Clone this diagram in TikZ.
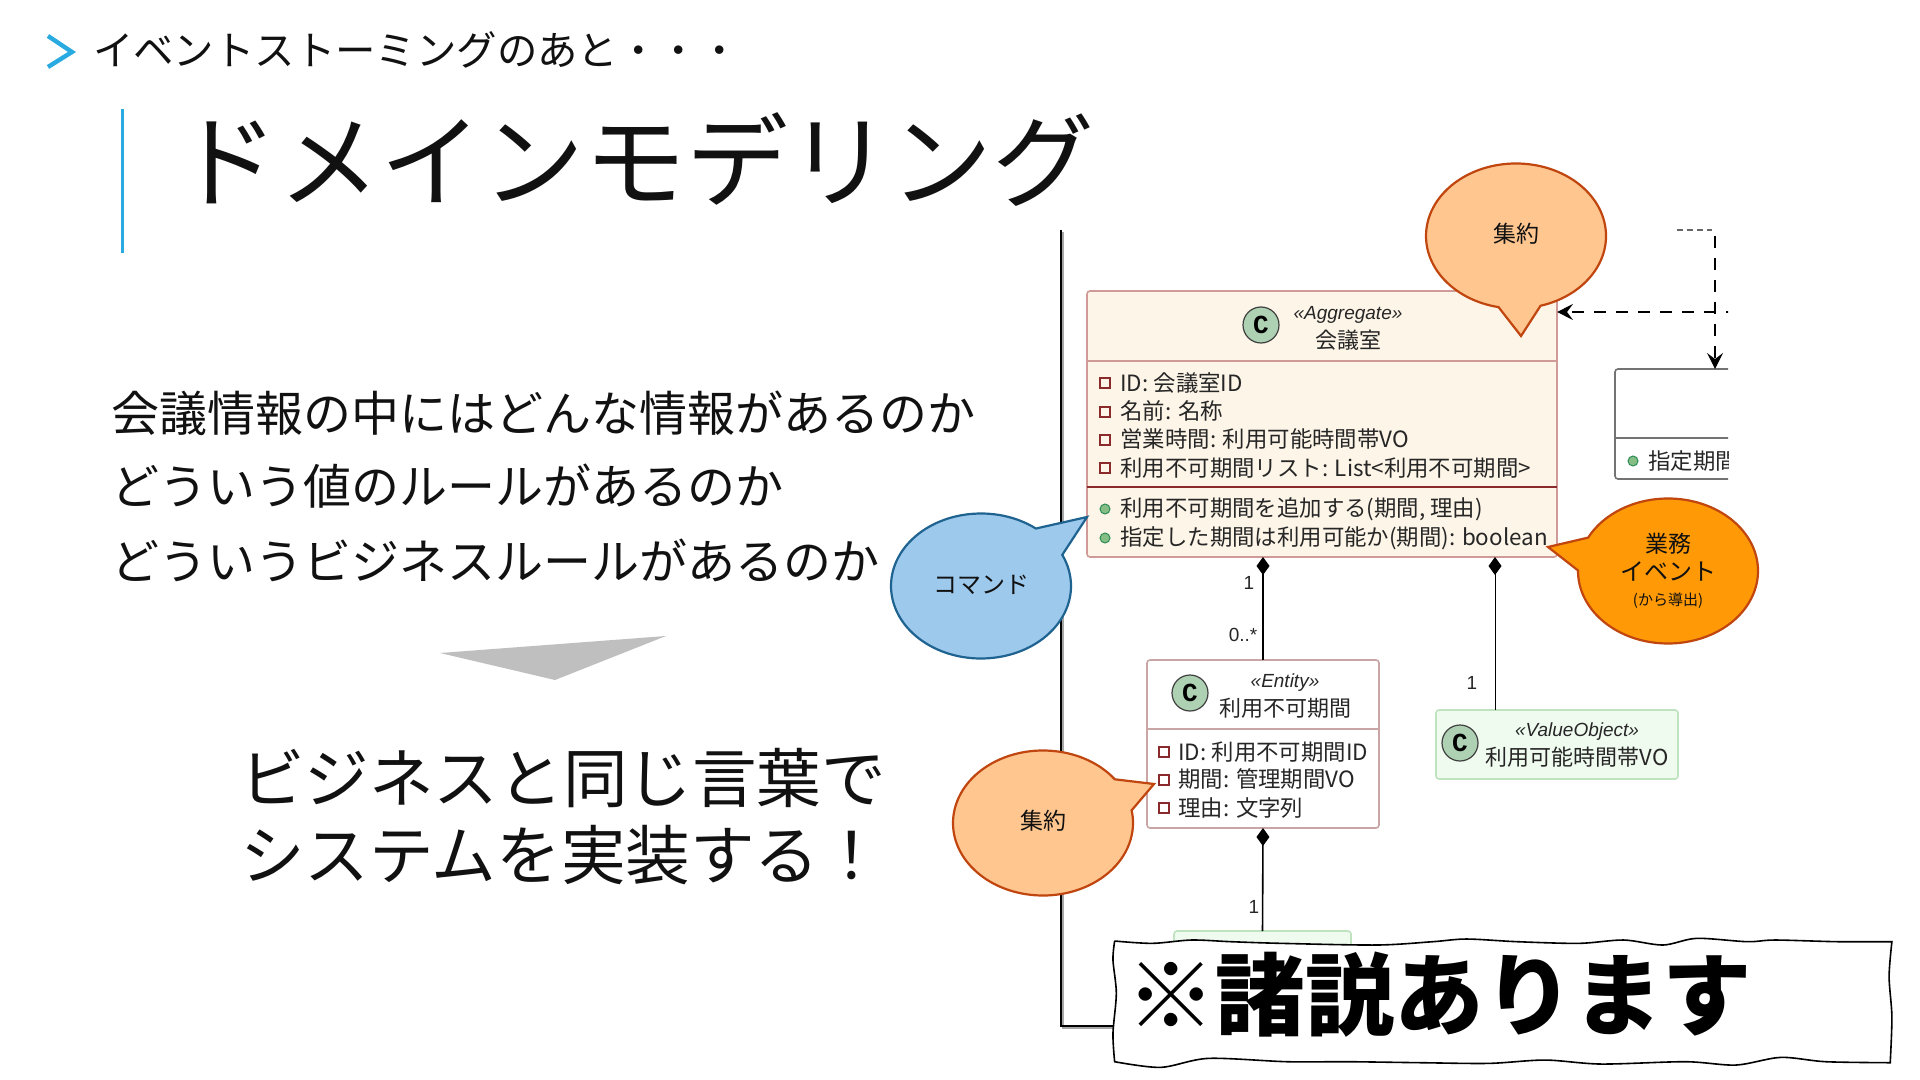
\documentclass[tikz,border=0pt]{standalone}
\usepackage{fontspec}
\setmainfont{Noto Sans CJK JP}
\newfontfamily\latfont{Liberation Sans}
\newfontfamily\monofont{Liberation Mono}
\usetikzlibrary{arrows.meta,shapes.callouts}
\definecolor{accent}{HTML}{29ABE2}
\definecolor{inkc}{HTML}{111111}
\definecolor{boxline}{HTML}{CF9A98}
\definecolor{entline}{HTML}{C9A5A5}
\definecolor{redline}{HTML}{8B2A2A}
\definecolor{creamfill}{HTML}{FDF5E8}
\definecolor{greenfill}{HTML}{F0FBF0}
\definecolor{greenline}{HTML}{BFE3BF}
\definecolor{spotfill}{HTML}{ADD1B2}
\definecolor{dotfill}{HTML}{84BE84}
\definecolor{dotline}{HTML}{2E8B57}
\definecolor{peach}{HTML}{FFC68F}
\definecolor{rust}{HTML}{C0450F}
\definecolor{sky}{HTML}{9DC9EC}
\definecolor{navyline}{HTML}{1F6391}
\definecolor{amber}{HTML}{FF9906}
\newcommand{\fsz}[1]{\fontsize{#1pt}{#1pt}\selectfont}
\tikzset{
  plain/.style={inner sep=0,outer sep=0,text=inkc},
  classbox/.style={draw=boxline,line width=.8pt,rounded corners=1.5pt,inner sep=0,outer sep=0},
  spot/.style={circle,draw=black!75,fill=spotfill,line width=.6pt,minimum size=18pt,inner sep=0,font=\monofont\bfseries\fsz{13},text=black},
  stereo/.style={inner sep=0,font=\latfont\itshape\fsz{9.5},text=black!85},
  cname/.style={inner sep=0,font=\fsz{11},text=black!85},
  member/.style={inner sep=0,anchor=west,font=\fsz{11.2},text=black!85},
  privicon/.style={draw=redline,line width=.6pt,minimum size=5pt,inner sep=0},
  pubicon/.style={circle,draw=dotline,fill=dotfill,line width=.5pt,minimum size=5pt,inner sep=0},
  mult/.style={inner sep=0,font=\latfont\fsz{9.5},text=black!85},
  assoc/.style={draw=black,line width=.8pt,{Diamond[length=9pt,width=6.5pt]}-},
  depend/.style={draw=black,line width=.8pt,dash pattern=on 6pt off 5pt,-{Stealth[length=8pt,width=8pt,inset=3pt]}},
  bubble/.style={ellipse callout,line width=1.1pt,minimum width=90pt,minimum height=72.5pt,inner sep=0,align=center,text=inkc,font=\fsz{11.5}},
}
\begin{document}
\begin{tikzpicture}[x=0.5pt,y=-0.5pt]
\useasboundingbox (0,0) rectangle (1920,1080);
\fill[white] (0,0) rectangle (1920,1080);

% header
\draw[accent,line width=2.2pt] (48,36) -- (72,52) -- (48,67);
\node[plain,anchor=west,font=\fsz{20.2}] (crumb) at (93,50) {イベントストーミングのあと・・・};
\draw[accent,line width=1.5pt] (122,109) -- (122,253);
\node[plain,anchor=west,font=\fsz{51}] (title) at (176,160) {ドメインモデリング};

% left text
\node[plain,anchor=west,font=\fsz{24}] (l1) at (111,413) {会議情報の中にはどんな情報があるのか};
\node[plain,anchor=west,font=\fsz{24}] (l2) at (111,486) {どういう値のルールがあるのか};
\node[plain,anchor=west,font=\fsz{24}] (l3) at (111,560) {どういうビジネスルールがあるのか};
\fill[black!25] (440,653) -- (666,636) -- (555,680) -- cycle;
\node[plain,anchor=west,font=\fsz{32.3}] (m1) at (240,778) {ビジネスと同じ言葉で};
\node[plain,anchor=west,font=\fsz{32.3}] (m2) at (240,855) {システムを実装する！};

% diagram frame
\draw[black!35,line width=1.2pt] (1063,232) -- (1063,1028) -- (1130,1028);
\draw[black,line width=1pt] (1061,230) -- (1061,1026) -- (1130,1026);

% meeting-room aggregate
\node[classbox,fill=creamfill,minimum width=235pt,minimum height=133pt] (meeting) at (1322,424) {};
\draw[boxline,line width=.8pt] (1087,361) -- (1557,361);
\draw[redline,line width=1.1pt] (1087,487) -- (1557,487);
\node[spot] (spotA) at (1261,325) {C};
\node[stereo] (stA) at (1348,315) {«Aggregate»};
\node[cname] (nameA) at (1348,340) {会議室};
\node[privicon] (ia1) at (1105,383) {}; \node[member] (a1) at (1120,383) {ID: 会議室ID};
\node[privicon] (ia2) at (1105,412) {}; \node[member] (a2) at (1120,411) {名前: 名称};
\node[privicon] (ia3) at (1105,440) {}; \node[member] (a3) at (1120,439) {営業時間: 利用可能時間帯VO};
\node[privicon] (ia4) at (1105,468) {}; \node[member] (a4) at (1120,468) {利用不可期間リスト: List<利用不可期間>};
\node[pubicon] (ia5) at (1105,509) {}; \node[member] (a5) at (1120,509) {利用不可期間を追加する(期間, 理由)};
\node[pubicon] (ia6) at (1105,538) {}; \node[member] (a6) at (1120,538) {指定した期間は利用可能か(期間): boolean};

% entity
\node[classbox,draw=entline,fill=white,minimum width=116pt,minimum height=84pt] (ent) at (1263,744) {};
\draw[entline,line width=.6pt] (1147,729) -- (1379,729);
\node[spot] (spotE) at (1190,693) {C};
\node[stereo] (stE) at (1285,683) {«Entity»};
\node[cname] (nameE) at (1285,708) {利用不可期間};
\node[privicon] (ie1) at (1164,752) {}; \node[member] (e1) at (1178,752) {ID: 利用不可期間ID};
\node[privicon] (ie2) at (1164,780) {}; \node[member] (e2) at (1178,779) {期間: 管理期間VO};
\node[privicon] (ie3) at (1164,808) {}; \node[member] (e3) at (1178,808) {理由: 文字列};

% value objects
\node[classbox,draw=greenline,fill=greenfill,minimum width=121pt,minimum height=34.5pt] (vo) at (1557,744.5) {};
\node[spot] (spotV) at (1460,743) {C};
\node[stereo] (stV) at (1577,732) {«ValueObject»};
\node[cname] (nameV) at (1577,757) {利用可能時間帯VO};
\node[classbox,draw=greenline,fill=greenfill,minimum width=88.5pt,minimum height=30pt] (lower) at (1262.5,961) {};

% clipped service box and its dependency lines
\begin{scope}
\clip (1540,226) rectangle (1728,500);
\node[classbox,draw=black!55,fill=white,minimum width=100pt,minimum height=55pt] (svc) at (1715,424) {};
\draw[black!55,line width=.6pt] (1615,438) -- (1815,438);
\node[pubicon] (is1) at (1633,461) {};
\node[member] (s1) at (1648,461) {指定期間};
\coordinate (depfree) at (1715,236);
\coordinate (depright) at (1760,312);
\draw[depend] (depfree) -- (svc.north);
\draw[depend] (depright) -- ([yshift=-10.5pt]meeting.north east);
\draw[black!60,line width=.7pt,dash pattern=on 3pt off 2pt] (1677,230) -- (1712,230);
\end{scope}

% associations
\draw[assoc] (ent.north |- meeting.south) -- (ent.north);
\draw[assoc,line width=.5pt] ([xshift=-31pt]vo.north |- meeting.south) -- ([xshift=-31pt]vo.north);
\draw[assoc] (ent.south) -- (lower.north);
\node[mult] (m1a) at (1249,583) {1};
\node[mult] (m1b) at (1243,635) {0..*};
\node[mult] (m2a) at (1472,683) {1};
\node[mult] (m3a) at (1254,907) {1};

% callouts
\node[bubble,fill=peach,draw=rust,callout absolute pointer={(1521,336)},callout pointer arc=27] (agg1) at (1516,236) {\raisebox{1.2pt}[\height][\depth]{集約}};
\node[bubble,fill=sky,draw=navyline,callout absolute pointer={(1087,517)},callout pointer arc=27,font=\fsz{12}] (cmd) at (981,586) {\raisebox{.5pt}[\height][\depth]{コマンド}};
\node[bubble,fill=peach,draw=rust,callout absolute pointer={(1154,784)},callout pointer arc=27] (agg2) at (1043,823) {\raisebox{1.2pt}[\height][\depth]{集約}};
\node[bubble,fill=amber,draw=rust,callout absolute pointer={(1548,547)},callout pointer arc=27] (evt) at (1668,571) {業務\\[2.5pt]{\fsz{12}イベント}\\[1pt]{\fsz{7.5}(から導出)}};

% banner
\begin{scope}[shift={(1040,860)},x=0.2806pt,y=-0.1667pt]
\filldraw[fill=white,draw=black,line width=.8pt]
  plot[smooth] coordinates {(133,243)(200,250)(270,240)(340,245)(430,250)(600,255)(700,245)(760,237)(850,245)(960,250)(1040,240)(1110,255)(1170,235)(1260,245)(1310,240)(1420,245)(1518,245)}
  -- plot[smooth] coordinates {(1518,245)(1513,350)(1518,470)(1515,608)}
  -- plot[smooth] coordinates {(1515,608)(1400,605)(1320,592)(1240,615)(1150,605)(1000,612)(900,600)(800,610)(680,608)(550,605)(440,605)(300,595)(215,622)(133,605)}
  -- plot[smooth] coordinates {(133,605)(130,520)(136,400)(130,300)(133,243)};
\end{scope}
\node[inner sep=0,anchor=west,text=black,font=\bfseries\fsz{44.7}] (warn) at (1126,995) {※諸説あります};
\end{tikzpicture}
\end{document}
